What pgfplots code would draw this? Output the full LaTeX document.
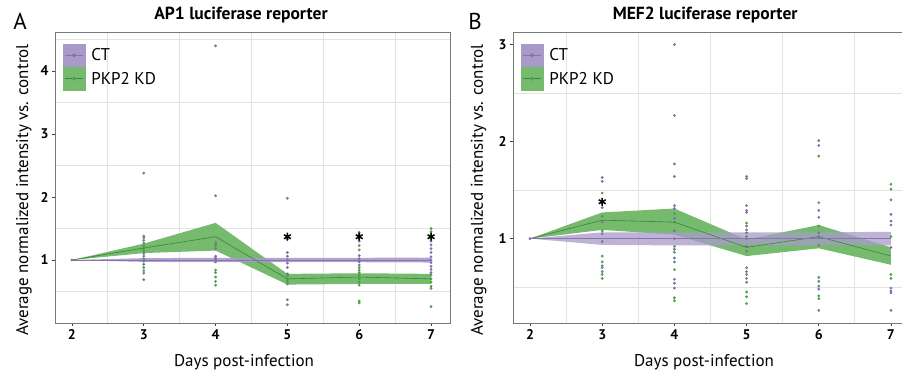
\documentclass[border=0pt]{standalone}
\usepackage{pgfplots}
\pgfplotsset{compat=1.18}
\usepgfplotslibrary{fillbetween}
\usepackage{fontspec}
\setmainfont{PT Sans}

\definecolor{bandP}{RGB}{168,154,200}
\definecolor{bandG}{RGB}{118,186,110}
\definecolor{lineP}{RGB}{135,115,178}
\definecolor{lineG}{RGB}{55,135,55}
\definecolor{dotP}{RGB}{128,110,172}
\definecolor{dotG}{RGB}{80,160,75}
\definecolor{gridc}{RGB}{226,226,226}
\definecolor{spine}{RGB}{120,120,120}

\pgfplotsset{
  myax/.style={
    scale only axis, height=291pt, clip mode=individual,
    xmin=1.764, xmax=7.264,
    xtick={2,3,4,5,6,7},
    minor xtick={2.5,3.5,4.5,5.5,6.5},
    grid=minor, minor grid style={gridc, line width=0.9pt},
    tick pos=left, tick align=outside,
    major tick length=3pt, minor tick length=0pt,
    every tick/.style={black!75, line width=0.7pt},
    axis line style={spine, line width=0.9pt},
    tick label style={font=\bfseries\fontsize{14}{14}\selectfont},
    /pgf/number format/assume math mode=true,
    label style={font=\fontsize{17}{17}\selectfont},
    ylabel={Average normalized intensity vs. control},
    title style={font=\bfseries\fontsize{17.5}{17.5}\selectfont, anchor=base},
    legend style={draw=none, fill=none, inner sep=0pt, outer sep=0pt, row sep=0pt,
      font=\fontsize{17}{17}\selectfont, cells={anchor=west},
      nodes={inner sep=0pt, minimum height=23pt}},
  },
  dotsP/.style={only marks, mark=*, mark size=1.2pt, color=dotP, mark options={draw=none}},
  dotsG/.style={only marks, mark=*, mark size=1.2pt, color=dotG, mark options={draw=none}},
  star/.style={only marks, mark=asterisk, mark size=4pt, black, mark options={line width=1.5pt}},
}

\begin{document}
\begin{tikzpicture}

% ---------------- Panel A ----------------
\begin{axis}[myax, at={(55pt,50pt)}, anchor=south west, width=395pt,
  ymin=0, ymax=4.62, ytick={1,2,3,4}, minor ytick={0.5,1.5,2.5,3.5,4.5},
  title={AP1 luciferase reporter},
  title style={at={(axis description cs:0.471,1.024)}},
  ylabel style={at={(axis description cs:-0.068,0.457)}, anchor=base},
  legend style={at={(axis description cs:0.02,0.96)}, anchor=north west},
]
\addlegendimage{legend image code/.code={
  \fill[bandP] (0pt,-11.5pt) rectangle (22pt,11.5pt);
  \draw[lineP, line width=0.7pt] (2pt,0pt) -- (20pt,0pt);
  \fill[dotP] (11pt,0pt) circle (1.8pt);
  \path (28pt,0pt);}}
\addlegendentry{CT}
\addlegendimage{legend image code/.code={
  \fill[bandG] (0pt,-11.5pt) rectangle (22pt,11.5pt);
  \draw[lineG, line width=0.7pt] (2pt,0pt) -- (20pt,0pt);
  \fill[dotG] (11pt,0pt) circle (1.8pt);
  \path (28pt,0pt);}}
\addlegendentry{PKP2 KD}

% KD band
\addplot[name path=aGU, draw=none] coordinates {(2,1)(3,1.26)(4,1.59)(5,0.78)(6,0.79)(7,0.78)};
\addplot[name path=aGL, draw=none] coordinates {(2,1)(3,1.11)(4,1.15)(5,0.61)(6,0.62)(7,0.62)};
\addplot[bandG, draw=none] fill between[of=aGU and aGL];
% CT band
\addplot[name path=aPU, draw=none] coordinates {(2,1)(3,1.03)(4,1.035)(5,1.035)(6,1.035)(7,1.04)};
\addplot[name path=aPL, draw=none] coordinates {(2,1)(3,0.97)(4,0.965)(5,0.965)(6,0.965)(7,0.96)};
\addplot[bandP, draw=none, fill opacity=0.9] fill between[of=aPU and aPL];

% points
\addplot[dotsP] coordinates {(2,1)
 (3,1.38)(3,1.31)(3,1.22)(3,1.10)(3,1.02)(3,0.93)(3,0.69)
 (4,1.25)(4,1.18)(4,1.06)(4,1.03)(4,1.00)(4,0.97)
 (5,1.38)(5,1.33)(5,1.12)(5,1.06)(5,1.00)(5,0.95)(5,0.88)(5,0.78)
 (6,1.44)(6,1.40)(6,1.30)(6,1.23)(6,1.07)(6,1.02)(6,0.97)(6,0.92)
 (7,1.38)(7,1.30)(7,1.24)(7,1.18)(7,1.12)(7,1.05)(7,1.00)(7,0.96)(7,0.90)(7,0.85)(7,0.80)};
\addplot[dotsG] coordinates {
 (3,2.38)(3,1.35)(3,1.27)(3,1.18)(3,1.14)(3,1.06)(3,0.98)(3,0.88)(3,0.83)(3,0.79)
 (4,4.40)(4,2.02)(4,1.28)(4,1.22)(4,0.84)(4,0.80)(4,0.73)(4,0.66)(4,0.60)
 (5,1.98)(5,0.75)(5,0.70)(5,0.66)(5,0.62)(5,0.37)(5,0.29)
 (6,1.35)(6,1.16)(6,0.88)(6,0.84)(6,0.80)(6,0.76)(6,0.70)(6,0.65)(6,0.60)(6,0.35)(6,0.32)
 (7,1.50)(7,1.45)(7,0.76)(7,0.70)(7,0.65)(7,0.58)(7,0.55)(7,0.26)};

% mean lines
\addplot[lineG, line width=0.6pt] coordinates {(2,1)(3,1.19)(4,1.37)(5,0.70)(6,0.73)(7,0.70)};
\addplot[lineP, line width=0.6pt] coordinates {(2,1)(3,1)(4,1)(5,1)(6,1)(7,1)};

\addplot[star] coordinates {(5,1.37)(6,1.37)(7,1.37)};

\node[font=\fontsize{17}{17}\selectfont, anchor=base] at (axis description cs:0.4785,-0.151) {Days post-infection};
\node[font=\fontsize{23}{23}\selectfont, anchor=base] at (axis description cs:-0.0886,1.007) {A};
\end{axis}

% ---------------- Panel B ----------------
\begin{axis}[myax, at={(513pt,50pt)}, anchor=south west, width=397pt,
  ymin=0.13, ymax=3.13, ytick={1,2,3}, minor ytick={0.5,1.5,2.5},
  title={MEF2 luciferase reporter},
  title style={at={(axis description cs:0.484,1.024)}},
  ylabel style={at={(axis description cs:-0.0756,0.457)}, anchor=base},
  legend style={at={(axis description cs:0.02,0.96)}, anchor=north west},
]
\addlegendimage{legend image code/.code={
  \fill[bandP] (0pt,-11.5pt) rectangle (22pt,11.5pt);
  \draw[lineP, line width=0.7pt] (2pt,0pt) -- (20pt,0pt);
  \fill[dotP] (11pt,0pt) circle (1.8pt);
  \path (28pt,0pt);}}
\addlegendentry{CT}
\addlegendimage{legend image code/.code={
  \fill[bandG] (0pt,-11.5pt) rectangle (22pt,11.5pt);
  \draw[lineG, line width=0.7pt] (2pt,0pt) -- (20pt,0pt);
  \fill[dotG] (11pt,0pt) circle (1.8pt);
  \path (28pt,0pt);}}
\addlegendentry{PKP2 KD}

\addplot[name path=bGU, draw=none] coordinates {(2,1)(3,1.27)(4,1.31)(5,0.99)(6,1.14)(7,0.91)};
\addplot[name path=bGL, draw=none] coordinates {(2,1)(3,1.09)(4,1.04)(5,0.82)(6,0.90)(7,0.73)};
\addplot[bandG, draw=none] fill between[of=bGU and bGL];
\addplot[name path=bPU, draw=none] coordinates {(2,1)(3,1.065)(4,1.065)(5,1.065)(6,1.065)(7,1.07)};
\addplot[name path=bPL, draw=none] coordinates {(2,1)(3,0.935)(4,0.93)(5,0.93)(6,0.93)(7,0.93)};
\addplot[bandP, draw=none, fill opacity=0.75] fill between[of=bPU and bPL];

\addplot[dotsP] coordinates {(2,1)
 (3,1.63)(3,1.59)(3,1.32)(3,1.17)(3,1.05)(3,0.97)(3,0.72)(3,0.66)
 (4,1.77)(4,1.34)(4,1.31)(4,1.21)(4,1.08)(4,1.00)(4,0.89)(4,0.80)(4,0.58)(4,0.54)(4,0.49)
 (5,1.62)(5,1.29)(5,1.27)(5,1.13)(5,1.06)(5,1.00)(5,0.92)(5,0.87)(5,0.66)(5,0.63)(5,0.55)
 (6,1.96)(6,1.29)(6,1.22)(6,1.06)(6,1.02)(6,0.56)(6,0.48)
 (7,1.40)(7,1.25)(7,1.18)(7,1.14)(7,0.91)(7,0.49)(7,0.46)(7,0.44)};
\addplot[dotsG] coordinates {
 (3,1.47)(3,1.23)(3,1.08)(3,0.82)(3,0.76)(3,0.70)(3,0.63)(3,0.59)
 (4,3.00)(4,2.27)(4,1.64)(4,1.26)(4,1.17)(4,0.92)(4,0.86)(4,0.76)(4,0.68)(4,0.39)(4,0.36)
 (5,1.64)(5,1.34)(5,1.16)(5,1.09)(5,1.02)(5,0.70)(5,0.59)(5,0.45)(5,0.40)(5,0.33)
 (6,2.01)(6,1.85)(6,1.37)(6,1.13)(6,0.93)(6,0.60)(6,0.51)(6,0.41)(6,0.38)(6,0.26)
 (7,1.56)(7,1.51)(7,1.02)(7,0.63)(7,0.59)(7,0.26)};

\addplot[lineG, line width=0.6pt] coordinates {(2,1)(3,1.19)(4,1.17)(5,0.91)(6,1.02)(7,0.82)};
\addplot[lineP, line width=0.6pt] coordinates {(2,1)(3,1)(4,1)(5,1)(6,1)(7,1)};

\addplot[star] coordinates {(3,1.38)};

\node[font=\fontsize{17}{17}\selectfont, anchor=base] at (axis description cs:0.4811,-0.151) {Days post-infection};
\node[font=\fontsize{23}{23}\selectfont, anchor=base] at (axis description cs:-0.0957,1.007) {B};
\end{axis}

\pgfresetboundingbox
\path[use as bounding box] (0pt,0pt) rectangle (902pt,373pt);
\end{tikzpicture}
\end{document}
